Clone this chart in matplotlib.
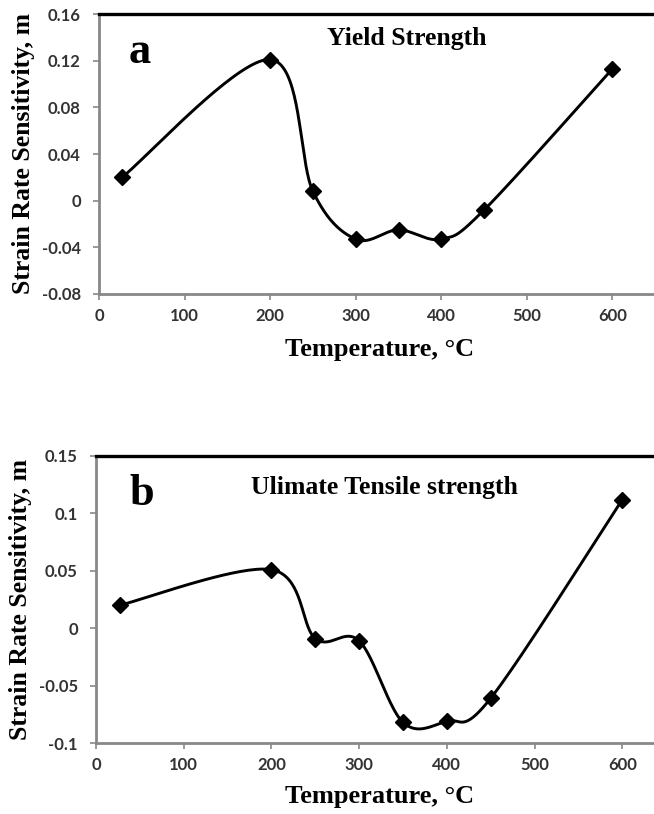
import numpy as np
import matplotlib.pyplot as plt

# Temperatures (deg C) and strain rate sensitivity values
temps = [27, 200, 250, 300, 350, 400, 450, 600]
m_yield = [0.020, 0.121, 0.008, -0.033, -0.025, -0.033, -0.008, 0.113]
m_uts = [0.020, 0.051, -0.009, -0.011, -0.082, -0.081, -0.061, 0.112]

xticks = [0, 100, 200, 300, 400, 500, 600]
yticks_a = [-0.08, -0.04, 0, 0.04, 0.08, 0.12, 0.16]
ytick_labels_a = ["-0.08", "-0.04", "0", "0.04", "0.08", "0.12", "0.16"]
yticks_b = [-0.1, -0.05, 0, 0.05, 0.1, 0.15]
ytick_labels_b = ["-0.1", "-0.05", "0", "0.05", "0.1", "0.15"]


def smooth_curve(x, y, n=40):
    # Catmull-Rom style bezier smoothing like a spreadsheet "smoothed line"
    x = np.asarray(x, float)
    y = np.asarray(y, float)
    px = np.concatenate([[x[0]], x, [x[-1]]])
    py = np.concatenate([[y[0]], y, [y[-1]]])
    xs, ys = [], []
    t = np.linspace(0, 1, n)
    for i in range(1, len(px) - 2):
        p0 = np.array([px[i], py[i]])
        p3 = np.array([px[i + 1], py[i + 1]])
        p1 = p0 + (np.array([px[i + 1], py[i + 1]]) - np.array([px[i - 1], py[i - 1]])) / 6
        p2 = p3 - (np.array([px[i + 2], py[i + 2]]) - np.array([px[i], py[i]])) / 6
        b = ((1 - t) ** 3)[:, None] * p0 + (3 * (1 - t) ** 2 * t)[:, None] * p1 \
            + (3 * (1 - t) * t ** 2)[:, None] * p2 + (t ** 3)[:, None] * p3
        xs.extend(b[:, 0])
        ys.extend(b[:, 1])
    return np.array(xs), np.array(ys)


serif = "Liberation Serif"
tick_font = "Lato"

fig = plt.figure(figsize=(6.54, 8.14), dpi=100)


def draw_panel(rect, y, yticks, ylabels, ylim, letter, title, title_xy, letter_xy, xlabel_y):
    ax = fig.add_axes(rect)
    sx, sy = smooth_curve(temps, y)
    ax.plot(sx, sy, color="black", lw=2.1, zorder=2)
    ax.plot(temps, y, linestyle="none", marker="D", ms=8, color="black", zorder=3)
    ax.set_xlim(0, 700)
    ax.set_ylim(*ylim)
    ax.set_xticks(xticks)
    ax.set_xticklabels([str(v) for v in xticks])
    ax.set_yticks(yticks)
    ax.set_yticklabels(ylabels)
    for lab in ax.get_xticklabels() + ax.get_yticklabels():
        lab.set_fontfamily(tick_font)
        lab.set_fontweight("bold")
        lab.set_fontsize(12)
        lab.set_color("#333333")
    ax.tick_params(direction="out", length=4, width=1.2, color="#888888", pad=6)
    ax.tick_params(axis="y", pad=9)
    ax.spines["left"].set_color("#888888")
    ax.spines["bottom"].set_color("#888888")
    ax.spines["left"].set_linewidth(2)
    ax.spines["bottom"].set_linewidth(2)
    ax.spines["top"].set_color("black")
    ax.spines["top"].set_linewidth(2.4)
    ax.spines["right"].set_visible(False)
    ax.set_ylabel("Strain Rate Sensitivity, m", fontfamily=serif, fontweight="bold",
                  fontsize=18.5, labelpad=5)
    fig.text(title_xy[0], title_xy[1], title, fontfamily=serif, fontweight="bold",
             fontsize=18.5, va="center", ha="left")
    fig.text(letter_xy[0], letter_xy[1], letter, fontfamily=serif, fontweight="bold",
             fontsize=32, va="center", ha="left")
    fig.text(380 / 654, xlabel_y, "Temperature, \u00b0C", fontfamily=serif, fontweight="bold",
             fontsize=19, va="center", ha="center")
    return ax


# panel a: yield strength
draw_panel([99 / 654, 1 - 294 / 814, 599 / 654, 280 / 814], m_yield, yticks_a, ytick_labels_a,
           (-0.08, 0.16), "a", "Yield Strength", (327 / 654, 1 - 39 / 814),
           (129 / 654, 1 - 52 / 814), 1 - 350 / 814)

# panel b: ultimate tensile strength
draw_panel([96 / 654, 1 - 743 / 814, 614 / 654, 287 / 814], m_uts, yticks_b, ytick_labels_b,
           (-0.1, 0.15), "b", "Ulimate Tensile strength", (251 / 654, 1 - 488 / 814),
           (129 / 654, 1 - 494 / 814), 1 - 797 / 814)

fig.savefig("out.png", dpi=100)
